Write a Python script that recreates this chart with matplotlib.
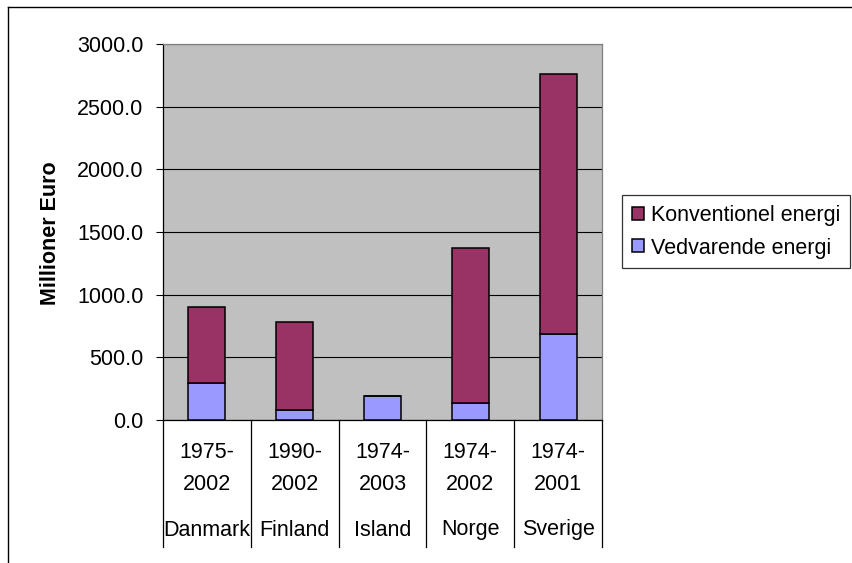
import matplotlib.pyplot as plt
import matplotlib.transforms as mtransforms
from matplotlib.lines import Line2D

plt.rcParams['font.family'] = ['Liberation Sans', 'DejaVu Sans']

# data
lande = ["Danmark", "Finland", "Island", "Norge", "Sverige"]
perioder = [("1975-", "2002"), ("1990-", "2002"), ("1974-", "2003"),
            ("1974-", "2002"), ("1974-", "2001")]
vedvarende = [293, 80, 194, 138, 686]
konventionel = [606, 704, 0, 1237, 2072]

W, H = 852, 563
fig = plt.figure(figsize=(W / 100, H / 100), dpi=100)
fig.patch.set_facecolor("white")

# plot area in pixels: x 163..602, y 44..420
ax = fig.add_axes([163 / W, 1 - 420 / H, (602 - 163) / W, (420 - 44) / H])
ax.set_facecolor("#C0C0C0")

x = list(range(len(lande)))
ax.bar(x, vedvarende, width=0.42, color="#9999FF", edgecolor="black",
       linewidth=1.1, label="Vedvarende energi", zorder=3)
ax.bar(x, konventionel, width=0.42, bottom=vedvarende, color="#993366",
       edgecolor="black", linewidth=1.1, label="Konventionel energi", zorder=3)

ax.set_xlim(-0.5, 4.5)
ax.set_ylim(0, 3000)
ax.set_yticks(range(0, 3001, 500))
ax.set_yticklabels(["%.1f" % v for v in range(0, 3001, 500)], fontsize=15.5)
ax.yaxis.grid(True, color="black", linewidth=0.8, zorder=1)
ax.set_axisbelow(True)
ax.tick_params(axis="y", length=5, width=0.8, pad=9, direction="out")
ax.set_xticks([])

for s in ["top", "right"]:
    ax.spines[s].set_color("#808080")
for s in ["left", "bottom"]:
    ax.spines[s].set_color("black")
for s in ax.spines.values():
    s.set_linewidth(0.9)

# category axis with two levels
tr = mtransforms.blended_transform_factory(ax.transData, fig.transFigure)
for b in [i - 0.5 for i in range(len(lande) + 1)]:
    ax.add_line(Line2D([b, b], [1 - 420 / H, 1 - 547 / H], transform=tr,
                       color="black", linewidth=0.9, clip_on=False))
for i, (land, (p1, p2)) in enumerate(zip(lande, perioder)):
    ax.text(i, 1 - 453 / H, p1, transform=tr, ha="center", va="center", fontsize=15.5)
    ax.text(i, 1 - 484 / H, p2, transform=tr, ha="center", va="center", fontsize=15.5)
    ax.text(i, 1 - 530 / H, land, transform=tr, ha="center", va="center", fontsize=15.5)

fig.text(51 / W, 1 - 233 / H, "Millioner Euro", rotation=90, ha="center",
         va="center", fontsize=15.5, fontweight="bold")

# legend (konventionel first)
h, l = ax.get_legend_handles_labels()
leg = fig.legend(h[::-1], l[::-1], loc="upper left",
                 bbox_to_anchor=(622 / W, 1 - 195 / H), bbox_transform=fig.transFigure,
                 borderaxespad=0, fontsize=15.5, frameon=True, fancybox=False,
                 handlelength=0.55, handleheight=0.55, handletextpad=0.35,
                 labelspacing=0.55, borderpad=0.45)
leg.get_frame().set_edgecolor("black")
leg.get_frame().set_linewidth(0.9)

# chart area border (top and left visible)
fig.add_artist(Line2D([8 / W, 1], [1 - 7 / H, 1 - 7 / H], transform=fig.transFigure,
                      color="black", linewidth=1.0))
fig.add_artist(Line2D([8 / W, 8 / W], [1 - 7 / H, 0], transform=fig.transFigure,
                      color="black", linewidth=1.0))

fig.savefig("out.png", dpi=100)
